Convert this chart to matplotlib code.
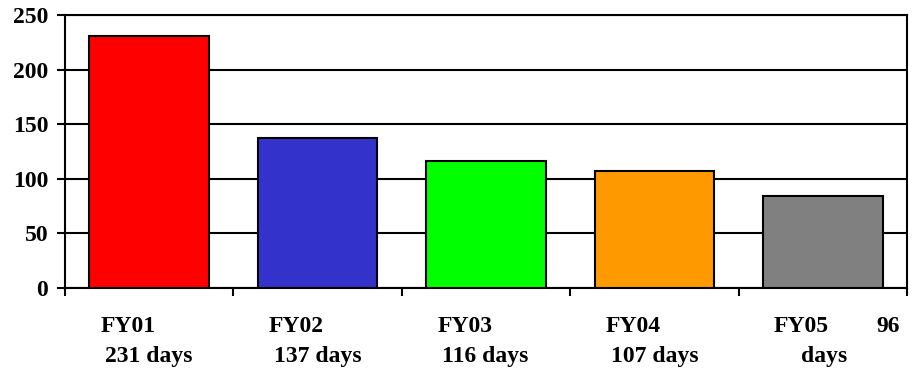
import matplotlib.pyplot as plt
import numpy as np

years = ['FY01', 'FY02', 'FY03', 'FY04', 'FY05']
day_labels = ['231 days', '137 days', '116 days', '107 days', '96']
days = [231, 137, 116, 107, 84]
colors = ['#FF0000', '#3333CC', '#00FF00', '#FF9900', '#808080']

plt.rcParams['font.family'] = ['Liberation Serif', 'DejaVu Serif']
plt.rcParams['font.weight'] = 'bold'
fs = 17

fig = plt.figure(figsize=(9.14, 3.70), dpi=100)
ax = fig.add_axes([65 / 914, 1 - 288 / 370, (907 - 65) / 914, (288 - 15) / 370])

x = np.arange(len(years))
ax.bar(x, days, width=0.71, color=colors, edgecolor='black', linewidth=1.5, zorder=3)

ax.set_xlim(-0.5, len(years) - 0.5)
ax.set_ylim(0, 250)
ax.set_yticks(np.arange(0, 251, 50))
ax.yaxis.grid(True, color='black', linewidth=1.5, zorder=0)
for s in ax.spines.values():
    s.set_linewidth(1.5)
ax.tick_params(axis='y', direction='out', length=6, width=1.5, labelsize=fs, pad=6)
ax.set_xticks(np.arange(-0.5, len(years), 1.0))
ax.set_xticklabels([])
ax.tick_params(axis='x', direction='out', length=6, width=1.5)
for lab in ax.get_yticklabels():
    lab.set_fontweight('bold')

tr = ax.get_xaxis_transform()
for i in range(len(years)):
    ax.text(i - 0.29, -0.14, years[i], transform=tr, ha='left', va='center', fontsize=fs, fontweight='bold')
    if i < len(years) - 1:
        ax.text(i - 0.26, -0.25, day_labels[i], transform=tr, ha='left', va='center', fontsize=fs, fontweight='bold')
    else:
        ax.text(i + 0.455, -0.14, day_labels[i], transform=tr, ha='right', va='center', fontsize=fs, fontweight='bold')
        ax.text(i - 0.13, -0.25, 'days', transform=tr, ha='left', va='center', fontsize=fs, fontweight='bold')

fig.savefig('out.png', dpi=100)
